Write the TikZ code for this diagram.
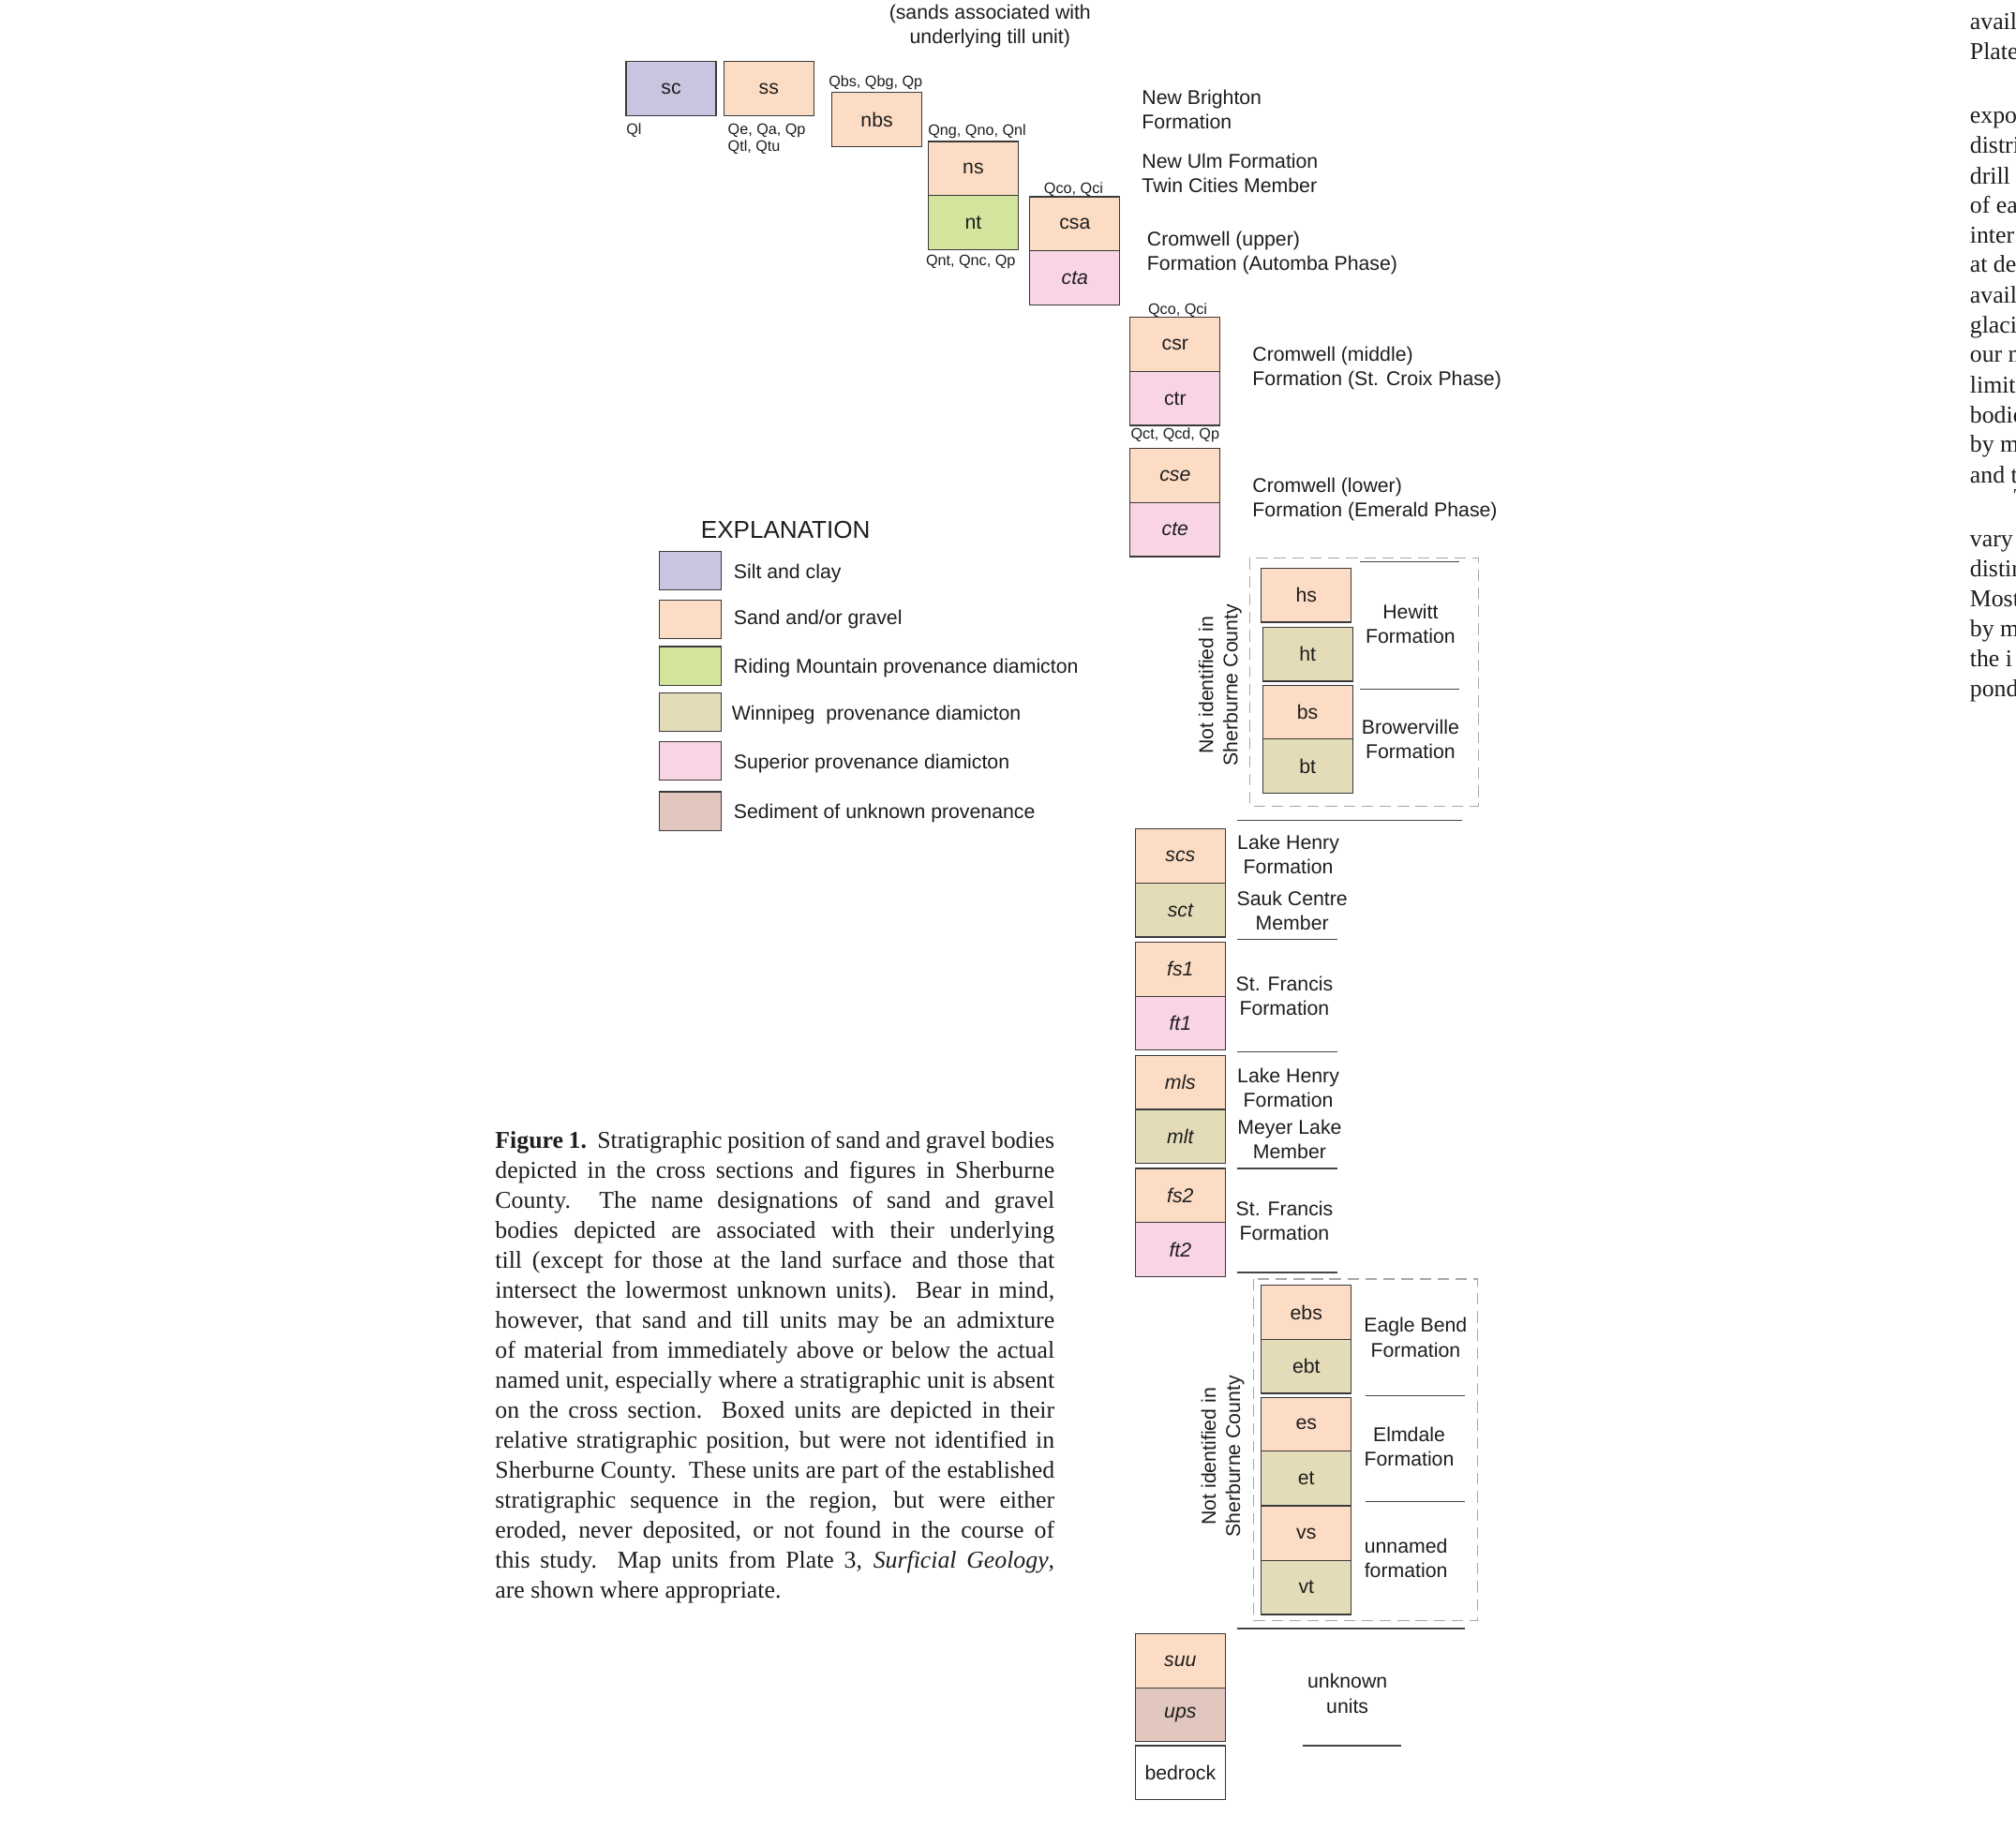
\documentclass[tikz,border=0pt]{standalone}
\usepackage{fontspec}
\setmainfont{Liberation Serif}
\newfontfamily\sansf{Liberation Sans}
\definecolor{cSilt}{HTML}{C9C5E1}
\definecolor{cSand}{HTML}{FCDCC4}
\definecolor{cGreen}{HTML}{D3E49C}
\definecolor{cWin}{HTML}{E4DBB9}
\definecolor{cSup}{HTML}{F9D4E5}
\definecolor{cUnk}{HTML}{E1C7BD}
\definecolor{boxline}{HTML}{3A3A3A}
\definecolor{sepc}{HTML}{444444}
\definecolor{txt}{HTML}{1E1E1E}
\definecolor{dashc}{HTML}{A8A8A8}
\tikzset{
  unitbox/.style={draw=boxline, line width=0.9pt, minimum width=70pt, minimum height=42pt,
    inner sep=0pt, outer sep=0pt, anchor=north west, text=txt,
    font=\sansf\fontsize{15.5}{19}\selectfont},
  siltbox/.style={unitbox, fill=cSilt},
  sandbox/.style={unitbox, fill=cSand},
  greenbox/.style={unitbox, fill=cGreen},
  winbox/.style={unitbox, fill=cWin},
  supbox/.style={unitbox, fill=cSup},
  unkbox/.style={unitbox, fill=cUnk},
  whitebox/.style={unitbox, fill=white},
  legbox/.style={draw=boxline, line width=0.9pt, minimum width=48pt, minimum height=30pt,
    inner sep=0pt, outer sep=0pt, anchor=north west},
  lbl/.style={font=\sansf\fontsize{15.5}{19}\selectfont, inner sep=0pt, text=txt},
  small/.style={font=\sansf\fontsize{11.8}{13.5}\selectfont, inner sep=0pt, text=txt},
  sepline/.style={draw=sepc, line width=0.9pt},
  dashbox/.style={draw=dashc, line width=0.9pt, dash pattern=on 9pt off 5pt},
  capt/.style={font=\fontsize{18.8}{23.33}\selectfont, inner sep=0pt, text=txt},
  rcol/.style={font=\fontsize{18.8}{23.33}\selectfont, inner sep=0pt, text=txt, anchor=base west},
}
\begin{document}
\begin{tikzpicture}[x=1pt,y=-1pt]
\useasboundingbox (0,0) rectangle (1568,1423);
\fill[white] (0,0) rectangle (1568,1423);

% header
\node[lbl, align=center] (hdr) at (770,20.5) {(sands associated with\\underlying till unit)};

% top staircase of units
\node[siltbox] (sc) at (487,48) {sc};
\node[sandbox] (ss) at (563,48) {ss};
\node[sandbox] (nbs) at (647,72) {nbs};
\node[sandbox] (ns) at (722,110) {ns};
\node[greenbox] (nt) at (722,152) {nt};
\node[sandbox] (csa) at (801,153) {csa};
\node[supbox] (cta) at (801,195) {\itshape cta};
\node[sandbox] (csr) at (879,247) {csr};
\node[supbox] (ctr) at (879,289) {ctr};
\node[sandbox] (cse) at (879,349) {\itshape cse};
\node[supbox] (cte) at (879,391) {\itshape cte};

% map unit labels
\node[small, anchor=base west] (qsc) at (487,104.5) {Ql};
\node[small, anchor=west, align=left] (qss) at (566,108) {Qe, Qa, Qp\\Qtl, Qtu};
\node[small, anchor=base] (qnbs) at (681,67.5) {Qbs, Qbg, Qp};
\node[small, anchor=base] (qns) at (760,105.5) {Qng, Qno, Qnl};
\node[small, anchor=base] (qnt) at (755,206.5) {Qnt, Qnc, Qp};
\node[small, anchor=base] (qcsa) at (835,150.5) {Qco, Qci};
\node[small, anchor=base] (qcsr) at (916,244.5) {Qco, Qci};
\node[small, anchor=base] (qctr) at (914,341.5) {Qct, Qcd, Qp};

% formation labels (top)
\node[lbl, anchor=west, align=left] (lnb) at (888,85) {New Brighton\\Formation};
\node[lbl, anchor=west, align=left] (lnu) at (888,134.5) {New Ulm Formation\\Twin Cities Member};
\node[lbl, anchor=west, align=left] (lcu) at (892,196.5) {Cromwell (upper)\\Formation (Automba Phase)};
\node[lbl, anchor=west, align=left] (lcm) at (974,286.5) {Cromwell (middle)\\Formation (St. Croix Phase)};
\node[lbl, anchor=west, align=left] (lcl) at (974,388.5) {Cromwell (lower)\\Formation (Emerald Phase)};

% explanation
\node[font=\sansf\fontsize{19}{22}\selectfont, text=txt, anchor=base west, inner sep=0pt] (expl) at (545,419) {EXPLANATION};
\node[legbox, fill=cSilt] (lg1) at (513,429) {};
\node[legbox, fill=cSand] (lg2) at (513,467) {};
\node[legbox, fill=cGreen] (lg3) at (513,503) {};
\node[legbox, fill=cWin] (lg4) at (513,539) {};
\node[legbox, fill=cSup] (lg5) at (513,577) {};
\node[legbox, fill=cUnk] (lg6) at (513,616) {};
\node[lbl, anchor=base west] (lt1) at (570.5,450) {Silt and clay};
\node[lbl, anchor=base west] (lt2) at (570.5,486) {Sand and/or gravel};
\node[lbl, anchor=base west] (lt3) at (570.5,523.5) {Riding Mountain provenance diamicton};
\node[lbl, anchor=base west] (lt4) at (569,560) {Winnipeg\ \ provenance diamicton};
\node[lbl, anchor=base west] (lt5) at (570.5,598) {Superior provenance diamicton};
\node[lbl, anchor=base west] (lt6) at (570.5,636.5) {Sediment of unknown provenance};

% Hewitt / Browerville (not identified)
\draw[dashbox] (972,434) rectangle (1150,627);
\node[sandbox] (hs) at (981,442) {hs};
\node[winbox] (ht) at (982,488) {ht};
\node[sandbox] (bs) at (982,533) {bs};
\node[winbox] (bt) at (982,575) {bt};
\node[lbl, align=center] (lhew) at (1097,485.5) {Hewitt\\Formation};
\node[lbl, align=center] (lbro) at (1097,575) {Browerville\\Formation};
\node[lbl, rotate=90, align=center] (nid1) at (949,533) {Not identified in\\Sherburne County};
\draw[sepline] (1058,437) -- (1135,437);
\draw[sepline] (1058,536) -- (1135,536);
\draw[sepline] (962,638) -- (1137,638);

% middle column
\node[sandbox] (scs) at (883,645) {\itshape scs};
\node[winbox] (sct) at (883,687) {\itshape sct};
\node[sandbox] (fs1) at (883,733) {\itshape fs1};
\node[supbox] (ft1) at (883,775) {\itshape ft1};
\node[sandbox] (mls) at (883,821) {\itshape mls};
\node[winbox] (mlt) at (883,863) {\itshape mlt};
\node[sandbox] (fs2) at (883,909) {\itshape fs2};
\node[supbox] (ft2) at (883,951) {\itshape ft2};
\node[lbl, align=center] (llh1) at (1002,665) {Lake Henry\\Formation};
\node[lbl, align=center] (lsc) at (1005,708.5) {Sauk Centre\\Member};
\node[lbl, align=center] (lsf1) at (999,775) {St. Francis\\Formation};
\node[lbl, align=center] (llh2) at (1002,846) {Lake Henry\\Formation};
\node[lbl, align=center] (lml) at (1003,886) {Meyer Lake\\Member};
\node[lbl, align=center] (lsf2) at (999,949.5) {St. Francis\\Formation};
\draw[sepline] (962,731) -- (1040,731);
\draw[sepline] (962,818) -- (1040,818);
\draw[sepline] (962,909) -- (1040,909);
\draw[sepline] (962,990) -- (1040,990);

% Eagle Bend / Elmdale / unnamed (not identified)
\draw[dashbox] (975,995) rectangle (1149,1261);
\node[sandbox] (ebs) at (981,1000) {ebs};
\node[winbox] (ebt) at (981,1042) {ebt};
\node[sandbox] (es) at (981,1087) {es};
\node[winbox] (et) at (981,1129) {et};
\node[sandbox] (vs) at (981,1172) {vs};
\node[winbox] (vt) at (981,1214) {vt};
\node[lbl, align=center] (leb) at (1101,1040.5) {Eagle Bend\\Formation};
\node[lbl, align=center] (lel) at (1096,1125.5) {Elmdale\\Formation};
\node[lbl, anchor=west, align=left] (lun) at (1061,1212.5) {unnamed\\formation};
\node[lbl, rotate=90, align=center] (nid2) at (951,1133) {Not identified in\\Sherburne County};
\draw[sepline] (1062,1086) -- (1139,1086);
\draw[sepline] (1062,1168) -- (1139,1168);
\draw[sepline] (962,1267) -- (1139,1267);

% bottom
\node[sandbox] (suu) at (883,1271) {\itshape suu};
\node[unkbox] (ups) at (883,1313) {\itshape ups};
\node[whitebox] (bed) at (883,1358) {bedrock};
\node[lbl, align=center] (luu) at (1048,1317.5) {unknown\\units};
\draw[sepline] (1013,1358) -- (1090,1358);

% caption
\node[capt, anchor=base west, text width=435pt, align=justify] (cap) at (385,893) {\hfuzz=30pt
\textbf{Figure 1.}\ \ Stratigraphic position of sand and gravel bodies\linebreak
depicted in the cross sections and figures in Sherburne\linebreak
County.\ \ The name designations of sand and gravel\linebreak
bodies depicted are associated with their underlying\linebreak
till (except for those at the land surface and those that\linebreak
intersect the lowermost unknown units).\ \ Bear in mind,\linebreak
however, that sand and till units may be an admixture\linebreak
of material from immediately above or below the actual\linebreak
named unit, especially where a stratigraphic unit is absent\linebreak
on the cross section.\ \ Boxed units are depicted in their\linebreak
relative stratigraphic position, but were not identified in\linebreak
Sherburne County.\ \ These units are part of the established\linebreak
stratigraphic sequence in the region, but were either\linebreak
eroded, never deposited, or not found in the course of\linebreak
this study.\ \ Map units from Plate 3, \textit{Surficial Geology},\linebreak
are shown where appropriate.};

% neighbouring text column, cut at the page edge
\begin{scope}
\clip (0,0) rectangle (1568,1423);
\node[rcol] (r1) at (1532,23) {avail};
\node[rcol] (r2) at (1532,46) {Plate};
\node[rcol] (r3) at (1532,96) {expo};
\node[rcol] (r4) at (1532,119) {distri};
\node[rcol] (r5) at (1532,143) {drill};
\node[rcol] (r6) at (1532,166) {of ea};
\node[rcol] (r7) at (1532,189) {inter};
\node[rcol] (r8) at (1532,212) {at de};
\node[rcol] (r9) at (1532,236) {avail};
\node[rcol] (r10) at (1532,259) {glaci};
\node[rcol] (r11) at (1532,282) {our m};
\node[rcol] (r12) at (1532,306) {limit};
\node[rcol] (r13) at (1532,329) {bodie};
\node[rcol] (r14) at (1532,352) {by m};
\node[rcol] (r15) at (1532,376) {and t};
\node[rcol] (r16) at (1566,393) {T};
\node[rcol] (r17) at (1532,425) {vary};
\node[rcol] (r18) at (1532,449) {distin};
\node[rcol] (r19) at (1532,472) {Most};
\node[rcol] (r20) at (1532,495) {by m};
\node[rcol] (r21) at (1532,519) {the i};
\node[rcol] (r22) at (1532,542) {pond};
\end{scope}
\end{tikzpicture}
\end{document}
